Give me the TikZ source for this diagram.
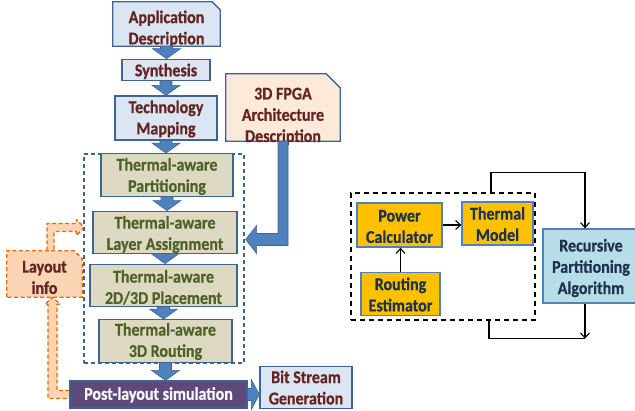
\documentclass[tikz,border=0pt]{standalone}
\usepackage{fontspec}
\setmainfont{Carlito}[BoldFeatures={FakeBold=0.8}]
\usetikzlibrary{calc,backgrounds,arrows.meta}
\definecolor{bdr}{HTML}{3C6496}
\definecolor{arrowblue}{HTML}{4F81BD}
\definecolor{lblue}{HTML}{DCE6F2}
\definecolor{dred}{HTML}{632523}
\definecolor{khaki}{HTML}{DDD9C3}
\definecolor{olivetxt}{HTML}{4F6228}
\definecolor{peach}{HTML}{FDE9D9}
\definecolor{lorange}{HTML}{FBD4B4}
\definecolor{dorange}{HTML}{E46C0A}
\definecolor{purp}{HTML}{5F497A}
\definecolor{gold}{HTML}{FFC000}
\definecolor{navytxt}{HTML}{1F3350}
\definecolor{cyanl}{HTML}{B7DEE8}
\newcommand\T[2][2.5]{\raisebox{-#1pt}[\height][\depth]{\scalebox{1}[1.12]{\begin{tabular}{@{}c@{}}#2\end{tabular}}}}
\newcommand\bdown[2]{%
  \draw[barrow] ($(#1.south)+(-6,0)$) -- ($(#1.south)+(6,0)$)
    -- ($(#1.south |- #2.north)+(6,-10)$) -- ($(#1.south |- #2.north)+(14,-10)$)
    -- (#1.south |- #2.north) -- ($(#1.south |- #2.north)+(-14,-10)$)
    -- ($(#1.south |- #2.north)+(-6,-10)$) -- cycle;}
\newcommand\chamf[3]{%
  \filldraw[#2] (#1.south west) -- (#1.north west) -- ($(#1.north east)+(-#3,0)$)
    -- ($(#1.north east)+(0,#3)$) -- (#1.south east) -- cycle;}
\begin{document}
\begin{tikzpicture}[x=1pt,y=-1pt,
  font=\fontsize{16}{19}\selectfont\bfseries,
  every node/.style={inner sep=0pt},
  boxb/.style={draw=bdr, line width=1.3pt, fill=lblue, text=dred},
  boxt/.style={draw=bdr, line width=1.3pt, fill=khaki, text=olivetxt},
  boxg/.style={draw=arrowblue, line width=1.3pt, fill=gold, text=navytxt},
  plain/.style={text=dred},
  barrow/.style={fill=arrowblue, draw=bdr, line width=0.6pt},
  oarrow/.style={fill=lorange, draw=dorange, line width=1.3pt, dash pattern=on 4pt off 2.5pt, line join=round},
  larrow/.style={line width=1.1pt, -{Straight Barb[length=5pt,width=9pt]}},
  lline/.style={line width=1.1pt}]
\useasboundingbox (0,0) rectangle (635,411);

% left flow
\node[plain, minimum width=107pt, minimum height=44pt] (app) at (166.5,24) {\T[5.5]{Application\\Description}};
\node[boxb, minimum width=88pt, minimum height=20pt] (syn) at (166,70) {\T[2]{Synthesis}};
\node[boxb, minimum width=102pt, minimum height=44pt] (tech) at (166,118) {\T[1.5]{Technology\\Mapping}};
\node[plain, minimum width=114pt, minimum height=67pt] (fpga) at (283,107.5) {\T[9]{3D FPGA\\Architecture\\Description}};

\node[draw=bdr, line width=1.1pt, dash pattern=on 4pt off 3pt, minimum width=160pt, minimum height=209pt] (flow) at (164,258.5) {};
\node[boxt, minimum width=132pt, minimum height=36pt] (part) at (167,175) {\T[2]{Thermal-aware\\Partitioning}};
\node[boxt, minimum width=144pt, minimum height=35pt] (layer) at (165,232.5) {\T[2.5]{Thermal-aware\\Layer Assignment}};
\node[boxt, minimum width=147pt, minimum height=37pt] (place) at (163.5,285.5) {\T[3.5]{Thermal-aware\\2D/3D Placement}};
\node[boxt, minimum width=133pt, minimum height=38pt] (route) at (165.5,341) {\T[1]{Thermal-aware\\3D Routing}};

\node[draw=bdr, line width=1.3pt, fill=purp, text=white!95!purp, minimum width=177pt, minimum height=27pt] (post) at (158.5,394.5) {\T[1]{Post-layout simulation}};
\node[boxb, minimum width=92pt, minimum height=41pt] (bit) at (306,387.5) {\T[2]{Bit Stream\\Generation}};
\node[plain, minimum width=75pt, minimum height=46pt] (lay) at (44.5,274) {\T[5]{Layout\\info}};

% right part
\node[draw=black, line width=1.4pt, dash pattern=on 5pt off 4pt, minimum width=184pt, minimum height=127pt] (loopbox) at (443,256.5) {};
\node[boxg, minimum width=85pt, minimum height=44pt] (power) at (399.5,225) {\T[3]{Power\\Calculator}};
\node[boxg, minimum width=71pt, minimum height=43pt] (therm) at (497.5,223.5) {\T[2.5]{Thermal\\Model}};
\node[boxg, minimum width=79pt, minimum height=42pt] (rest) at (400.5,294) {\T[2.5]{Routing\\Estimator}};
\node[draw=arrowblue, line width=1.3pt, fill=cyanl, text=navytxt, minimum width=96pt, minimum height=74pt] (rpa) at (591,266) {\T[2.5]{Recursive\\Partitioning\\Algorithm}};

\draw[larrow] (power.east) -- (power.east -| therm.west);
\draw[larrow] (rest.north) -- (rest.north |- power.south);
\coordinate (ts) at ($(loopbox.north)+(48,0)$);
\coordinate (bs) at ($(loopbox.south)+(46,0)$);
\coordinate (rt) at ($(rpa.north)+(-6,0)$);
\coordinate (rb) at ($(rpa.south)+(-6,0)$);
\coordinate (tc) at ($(ts)+(0,-20)$);
\coordinate (bc) at ($(bs)+(0,18)$);
\draw[larrow] (ts) -- (tc) -| (rt);
\draw[lline] (bs) -- (bc) -- (bc -| rb);
\draw[larrow] (rb) -- (bc -| rb);

% blue block arrows
\bdown{app}{syn}
\bdown{syn}{tech}
\bdown{tech}{part}
\bdown{part}{layer}
\bdown{layer}{place}
\bdown{place}{route}
\bdown{route}{post}
\draw[barrow] ($(post.east)+(0,-6)$) -- ($(post.east -| bit.west)+(-8,-6)$)
  -- ($(post.east -| bit.west)+(-8,-15)$) -- ($(post.east -| bit.west)+(0,0)$)
  -- ($(post.east -| bit.west)+(-8,15)$) -- ($(post.east -| bit.west)+(-8,6)$)
  -- ($(post.east)+(0,6)$) -- cycle;

% arrow from FPGA description
\coordinate (tip) at ($(layer.east)+(8,7)$);
\coordinate (fc) at (fpga.south |- tip);
\draw[barrow] ($(fpga.south)+(-5,0)$) -- ($(fpga.south)+(5,0)$) -- ($(fc)+(5,6)$)
  -- ($(tip)+(11,6)$) -- ($(tip)+(11,14)$) -- (tip) -- ($(tip)+(11,-14)$)
  -- ($(tip)+(11,-6)$) -- ($(fc)+(-5,-6)$) -- cycle;

\begin{scope}[on background layer]
% orange dashed arrows
\coordinate (otip) at ($(layer.west)+(-8,-5)$);
\coordinate (oc) at ($(lay.north)+(6,0)$);
\draw[oarrow] ($(oc)+(-3.5,0)$) -- ($(oc |- otip)+(-3.5,-4)$) -- ($(otip)+(-8,-4)$)
  -- ($(otip)+(-8,-8)$) -- (otip) -- ($(otip)+(-8,8)$) -- ($(otip)+(-8,4)$)
  -- ($(oc |- otip)+(3.5,4)$) -- ($(oc)+(3.5,0)$);
\coordinate (btip) at ($(lay.south)+(8,0)$);
\coordinate (bcn) at (btip |- post.west);
\draw[oarrow] ($(post.west)+(0,-4)$) -- ($(bcn)+(4.5,-4)$) -- ($(btip)+(4.5,7)$)
  -- ($(btip)+(7.5,7)$) -- (btip) -- ($(btip)+(-7.5,7)$) -- ($(btip)+(-4.5,7)$)
  -- ($(bcn)+(-4.5,4)$) -- ($(post.west)+(0,4)$);
% chamfered boxes
\chamf{app}{draw=bdr, line width=1.3pt, fill=lblue}{8}
\chamf{fpga}{draw=bdr, line width=1.3pt, fill=peach}{14}
\chamf{lay}{draw=dorange, line width=1.3pt, dash pattern=on 4pt off 2.5pt, fill=lorange}{8}
\end{scope}
\end{tikzpicture}
\end{document}
